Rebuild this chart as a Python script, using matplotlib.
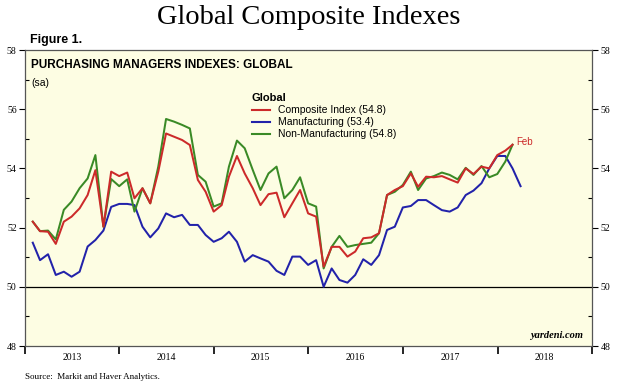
import matplotlib
matplotlib.use("Agg")
import matplotlib.pyplot as plt
import matplotlib.dates as mdates
import numpy as np
import pandas as pd

# Monthly values, Jan 2013 onward
composite = [52.20, 51.88, 51.86, 51.45, 52.20, 52.37, 52.65, 53.10, 53.94, 52.03, 53.89, 53.74,
             53.86, 52.99, 53.33, 52.82, 53.89, 55.18, 55.07, 54.96, 54.79, 53.61, 53.21, 52.54,
             52.76, 53.72, 54.42, 53.83, 53.33, 52.76, 53.13, 53.18, 52.35, 52.82, 53.27, 52.48,
             52.37, 50.68, 51.35, 51.35, 51.02, 51.19, 51.64, 51.67, 51.81, 53.10, 53.27, 53.40,
             53.83, 53.38, 53.72, 53.70, 53.74, 53.63, 53.52, 54.00, 53.81, 54.06, 54.00, 54.45,
             54.60, 54.80]
manufacturing = [51.49, 50.90, 51.10, 50.40, 50.51, 50.34, 50.51, 51.36, 51.58, 51.90, 52.70, 52.80,
                 52.80, 52.76, 52.03, 51.67, 51.97, 52.48, 52.35, 52.43, 52.09, 52.09, 51.75, 51.52,
                 51.64, 51.86, 51.52, 50.85, 51.07, 50.96, 50.85, 50.54, 50.40, 51.02, 51.02, 50.74,
                 50.90, 50.00, 50.62, 50.23, 50.14, 50.40, 50.93, 50.74, 51.07, 51.92, 52.03, 52.68,
                 52.73, 52.93, 52.93, 52.76, 52.59, 52.54, 52.68, 53.10, 53.25, 53.50, 54.00, 54.42,
                 54.42, 54.00, 53.40]
non_manufacturing = [52.20, 51.88, 51.90, 51.60, 52.60, 52.88, 53.33, 53.66, 54.45, 52.03, 53.64, 53.40,
                     53.63, 52.54, 53.33, 52.82, 54.06, 55.67, 55.58, 55.47, 55.35, 53.78, 53.55, 52.71,
                     52.82, 54.06, 54.94, 54.68, 53.95, 53.27, 53.83, 54.06, 52.99, 53.27, 53.70, 52.82,
                     52.71, 50.62, 51.35, 51.72, 51.35, 51.41, 51.45, 51.49, 51.81, 53.10, 53.21, 53.44,
                     53.89, 53.27, 53.66, 53.74, 53.86, 53.78, 53.63, 54.02, 53.78, 54.08, 53.70, 53.81,
                     54.23, 54.80]
years = ["2013", "2014", "2015", "2016", "2017", "2018"]
legend_labels = ["Composite Index (54.8)", "Manufacturing (53.4)", "Non-Manufacturing (54.8)"]

dates_c = pd.date_range("2013-01-31", periods=len(composite), freq="ME")
dates_m = pd.date_range("2013-01-31", periods=len(manufacturing), freq="ME")
dates_n = pd.date_range("2013-01-31", periods=len(non_manufacturing), freq="ME")

RED = "#cc2a2a"
BLUE = "#2222aa"
GREEN = "#3a8a26"

fig = plt.figure(figsize=(6.18, 3.81), dpi=100)
fig.patch.set_facecolor("white")
ax = fig.add_axes([25/618, 1-346/381, (592-25)/618, (346-50)/381])
ax.set_facecolor("#fdfde3")

lw = 1.45
ax.axhline(50, color="black", lw=0.9, zorder=1)
ax.plot(dates_m, manufacturing, color=BLUE, lw=lw, zorder=3)
ax.plot(dates_n, non_manufacturing, color=GREEN, lw=lw, zorder=4)
ax.plot(dates_c, composite, color=RED, lw=lw, zorder=5)

ax.set_ylim(48, 58)
ax.set_xlim(pd.Timestamp("2013-01-01"), pd.Timestamp("2019-01-01"))

# y ticks
ax.set_yticks(np.arange(48, 59, 2))
ax.set_yticks(np.arange(49, 58, 2), minor=True)
ax.tick_params(axis="y", which="major", direction="out", length=4, width=0.8,
               left=True, right=True, labelleft=True, labelright=True,
               labelsize=7, pad=2)
ax.tick_params(axis="y", which="minor", direction="in", length=3, width=0.8,
               left=True, right=True)
for lab in ax.get_yticklabels():
    lab.set_fontfamily("Liberation Serif")

# x ticks
major = [pd.Timestamp(f"{y}-01-01") for y in range(2013, 2020)]
minor = [pd.Timestamp(f"{y}-07-01") for y in years]
ax.set_xticks(major)
ax.set_xticklabels([""] * len(major))
ax.set_xticks(minor, minor=True)
ax.set_xticklabels(years, minor=True, fontfamily="Liberation Serif", fontsize=7)
ax.tick_params(axis="x", which="major", direction="out", length=6, width=1.2, pad=2)
ax.tick_params(axis="x", which="minor", length=0, pad=5)

for s in ax.spines.values():
    s.set_color("#555555")
    s.set_linewidth(0.9)

# Texts
fig.text(0.5, 1-18/381, "Global Composite Indexes", ha="center", va="center",
         fontfamily="Liberation Serif", fontsize=20.5)
fig.text(30/618, 1-40/381, "Figure 1.", ha="left", va="center",
         fontfamily="Liberation Sans", fontweight="bold", fontsize=9)
ax.text(0.011, 0.97, "PURCHASING MANAGERS INDEXES: GLOBAL", transform=ax.transAxes,
        ha="left", va="top", fontfamily="Liberation Sans", fontweight="bold", fontsize=8.5)
ax.text(0.011, 0.905, "(sa)", transform=ax.transAxes, ha="left", va="top",
        fontfamily="Liberation Sans", fontsize=7.5)

# Legend
lx0 = (252-25)/567
ax.text(lx0, 1-(98-50)/296, "Global", transform=ax.transAxes, ha="left", va="center",
        fontfamily="Liberation Sans", fontweight="bold", fontsize=8)
for i, (lab, col) in enumerate(zip(legend_labels, [RED, BLUE, GREEN])):
    yy = 1-(110+12*i-50)/296
    ax.plot([lx0, lx0+18/567], [yy, yy], transform=ax.transAxes, color=col, lw=1.5, clip_on=False)
    ax.text(lx0+26/567, yy, lab, transform=ax.transAxes, ha="left", va="center",
            fontfamily="Liberation Sans", fontsize=7.5)

ax.annotate("Feb", xy=(dates_c[-1], composite[-1]), xytext=(3, 2), textcoords="offset points",
            ha="left", va="center", color=RED, fontfamily="Liberation Sans", fontsize=7)

ax.text(0.985, 0.02, "yardeni.com", transform=ax.transAxes, ha="right", va="bottom",
        fontfamily="Liberation Serif", fontstyle="italic", fontweight="bold", fontsize=7.5)
fig.text(25/618, 1-377/381, "Source:  Markit and Haver Analytics.", ha="left", va="center",
         fontfamily="Liberation Serif", fontsize=6.5)

fig.savefig("out.png", dpi=100)
